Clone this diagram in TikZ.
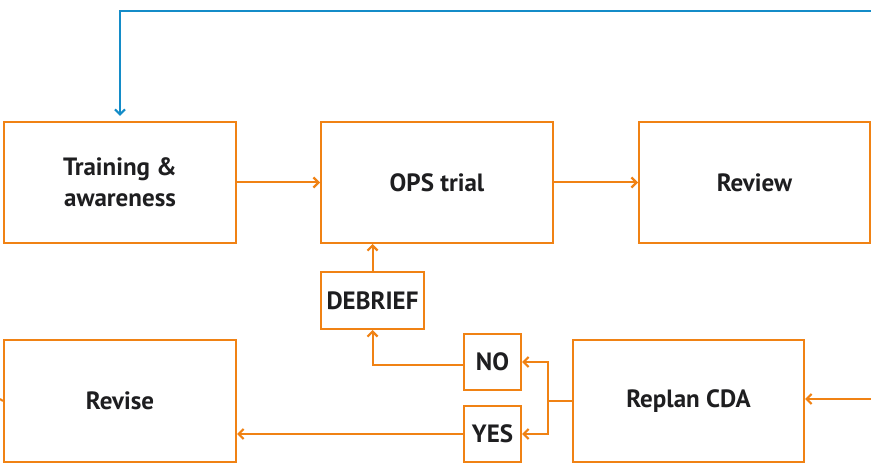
\documentclass[tikz,border=0pt]{standalone}
\usepackage{fontspec}
\setmainfont{PT Sans}
\usetikzlibrary{arrows.meta}
\definecolor{orng}{RGB}{240,130,20}
\definecolor{blu}{RGB}{20,140,200}
\definecolor{txt}{RGB}{30,30,32}
\begin{document}
\begin{tikzpicture}[x=1pt,y=-1pt,
  box/.style={draw=orng,line width=2pt,fill=white,rectangle,inner sep=0pt,
    align=center,text=txt,font=\fontsize{25}{31}\selectfont\bfseries},
  conn/.style={draw=orng,line width=2pt},
  arr/.style={conn,-{Straight Barb[length=5pt,width=10pt,line width=2.2pt]}},
  barr/.style={draw=blu,line width=2pt,-{Straight Barb[length=5pt,width=10pt,line width=2.2pt]}}]
\useasboundingbox (0,0) rectangle (871,470);
\node[box,minimum width=232pt,minimum height=121pt] (train) at (120,182.5) {Training \&\\awareness};
\node[box,minimum width=232pt,minimum height=121pt] (ops) at (437,182.5) {OPS trial};
\node[box,minimum width=231pt,minimum height=121pt] (review) at (754.5,182.5) {Review};
\node[box,minimum width=103pt,minimum height=57pt] (debrief) at (372.5,300.5) {DEBRIEF};
\node[box,minimum width=57pt,minimum height=56pt] (no) at (492.5,362) {NO};
\node[box,minimum width=57pt,minimum height=56pt] (yes) at (492.5,434) {YES};
\node[box,minimum width=231pt,minimum height=122pt] (replan) at (688.5,401) {Replan CDA};
\node[box,minimum width=232pt,minimum height=122pt] (revise) at (120,401) {Revise};
\coordinate (bstart) at (871,11);
\coordinate (rin) at (871,399);
\coordinate (lout) at (0,399);
\coordinate (split) at (548,401);
\draw[arr] (train.east) -- (ops.west);
\draw[arr] (ops.east) -- (review.west);
\draw[barr,shorten >=5pt] (bstart) -| (train.north);
\draw[arr] (debrief.north) -- (debrief.north |- ops.south);
\draw[arr] ([yshift=-3pt]no.west) -| (debrief.south);
\draw[conn] (replan.west) -- (split);
\draw[arr] (split) |- (no.east);
\draw[arr] (split) |- (yes.east);
\draw[arr] (yes.west) -- (yes.west -| revise.east);
\draw[conn] (lout) -- (revise.west);
\draw[arr] (rin) -- (rin -| replan.east);
\end{tikzpicture}
\end{document}
